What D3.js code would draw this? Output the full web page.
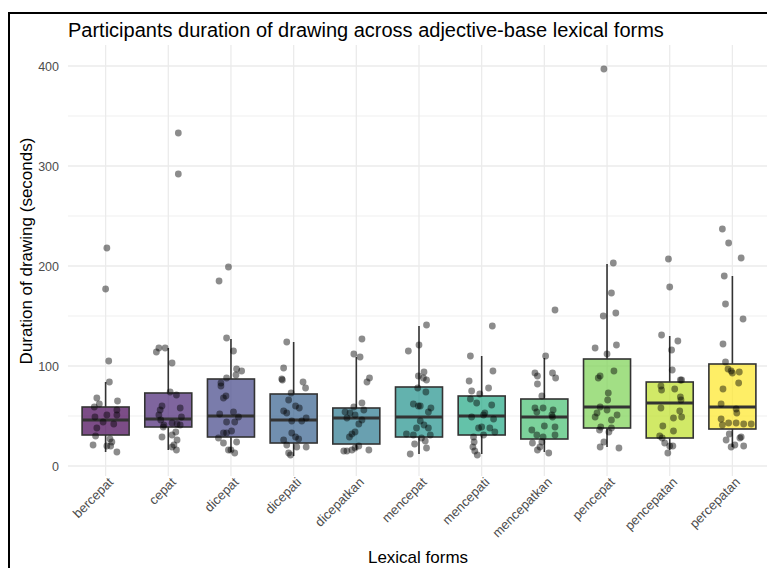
<!DOCTYPE html>
<html>
<head>
<meta charset="utf-8">
<script src="https://cdn.jsdelivr.net/npm/d3@7"></script>
<style>
  body { margin: 0; background: #fff; }
  text { font-family: "Liberation Sans", Arial, sans-serif; }
</style>
</head>
<body>
<div class="chart"></div>
<script>
var svgWidth = 767;
var svgHeight = 568;

var margin = { top: 45, right: -3, bottom: 92, left: 68 };
var width = svgWidth - margin.left - margin.right;
var height = svgHeight - margin.top - margin.bottom;

//-------- data ----------------------------------------
var categories = ["bercepat", "cepat", "dicepat", "dicepati", "dicepatkan", "mencepat",
  "mencepati", "mencepatkan", "pencepat", "pencepatan", "percepatan"];

// box statistics (seconds)
var q1 = [31, 39, 29, 23, 22, 29, 31, 27, 38, 28, 37];
var medians = [46, 47, 50, 46, 48, 49, 50, 49, 59, 63, 59];
var q3 = [59, 73, 87, 72, 58, 79, 70, 67, 107, 84, 102];
var whiskerLow = [14, 16, 14, 10, 16, 12, 12, 14, 19, 16, 19];
var whiskerHigh = [84, 118, 127, 124, 109, 140, 110, 108, 202, 130, 190];

// jittered observations: [duration, jitter as share of category step]
var durations = [
  [[218, .02], [177, 0], [105, .05], [84, .06], [68, -.14], [62, -.10], [65, .19], [59, -.18], [56, .18],
   [51, .18], [51, .02], [49, -.17], [44, -.04], [42, .13], [38, -.14], [30, -.16], [27, .07], [24, .10],
   [21, -.20], [20, .02], [20, .08], [14, .18]],
  [[333, .16], [292, .16], [114, -.19], [118, -.15], [118, -.05], [103, .06], [74, .03], [71, .13], [60, -.10],
   [58, .19], [56, -.13], [51, -.15], [49, .21], [46, -.12], [41, -.07], [42, .14], [41, .19], [43, .06],
   [39, -.08], [34, .12], [31, .06], [29, -.10], [26, .14], [21, .09], [19, .06], [16, .13]],
  [[199, -.04], [185, -.19], [128, -.07], [115, .04], [97, .09], [95, .17], [91, .08], [88, -.07], [83, -.16],
   [80, -.16], [70, -.08], [68, -.12], [54, .04], [52, -.18], [49, .12], [44, -.07], [44, .06], [35, .01],
   [33, -.12], [33, -.07], [28, -.20], [23, -.12], [24, .09], [16, -.04], [16, 0], [13, .06]],
  [[124, -.11], [98, -.16], [87, -.19], [86, -.18], [84, .15], [78, .19], [73, -.04], [66, -.08], [60, .03],
   [58, .09], [55, -.16], [53, -.11], [48, .20], [45, .13], [45, -.03], [33, -.03], [26, -.16], [29, .03],
   [27, .08], [21, -.11], [19, .05], [19, .20], [13, -.08], [11, -.05]],
  [[127, .09], [112, -.04], [109, .06], [88, .21], [84, .17], [63, .09], [59, -.04], [56, .12], [54, -.18],
   [53, -.10], [51, -.02], [48, -.15], [46, .09], [42, .04], [34, -.02], [32, -.07], [29, -.11], [20, .04],
   [18, -.02], [15, -.20], [16, -.07], [16, .20], [15, -.15]],
  [[141, .12], [121, 0], [115, -.17], [94, .08], [90, -.01], [88, .07], [86, .12], [78, -.02], [74, .11],
   [62, -.09], [60, .02], [60, -.01], [58, .19], [54, .15], [45, .02], [41, .08], [38, -.04], [38, .15],
   [32, -.20], [31, -.09], [31, .18], [28, .04], [25, .10], [22, -.07], [18, .12], [12, -.14]],
  [[140, .17], [110, -.18], [95, .18], [85, -.20], [78, .11], [75, -.16], [72, -.03], [67, -.18], [63, -.08],
   [61, .16], [53, .05], [51, .03], [49, -.16], [47, .19], [39, 0], [38, -.05], [38, .13], [34, .21],
   [29, -.13], [31, .03], [24, -.12], [19, -.14], [15, -.11], [11, -.07]],
  [[156, .17], [110, .02], [93, -.15], [90, -.11], [93, .13], [88, .18], [82, -.11], [70, -.04], [58, -.15],
   [58, -.02], [56, .14], [54, -.12], [51, .12], [49, .13], [40, 0], [36, -.20], [39, .17], [31, -.12],
   [31, .17], [29, -.02], [23, -.19], [24, -.04], [19, -.07], [16, -.11], [13, .07]],
  [[397, -.05], [203, .10], [173, .07], [150, -.06], [153, .14], [118, -.19], [121, .15], [112, 0], [95, .11],
   [90, -.11], [88, -.14], [73, .02], [66, .01], [59, -.11], [56, 0], [53, -.16], [51, .16], [49, -.19],
   [46, .07], [39, -.10], [38, .07], [36, -.12], [34, .03], [24, -.05], [19, -.11], [18, .19]],
  [[207, -.02], [179, 0], [131, -.13], [125, .13], [116, .03], [96, .04], [86, .19], [86, .17], [80, -.14],
   [76, -.13], [77, .08], [69, .17], [66, .18], [58, -.14], [55, .16], [49, .19], [48, .06], [40, -.11],
   [35, .06], [30, -.16], [28, -.12], [23, -.08], [20, 0], [20, .05], [13, -.03]],
  [[237, -.16], [223, -.06], [208, .14], [190, -.13], [162, -.11], [147, .17], [122, -.15], [104, -.11],
   [97, -.07], [93, 0], [94, .11], [95, -.02], [83, .10], [77, -.15], [62, -.18], [57, .06], [53, .07],
   [47, -.18], [43, -.06], [43, .06], [42, .18], [42, .30], [41, -.16], [32, -.05], [26, -.10], [29, .14],
   [28, .12], [21, .04], [20, .18], [19, -.02]]
];

var yTicks = [0, 100, 200, 300, 400];
var yMinor = [50, 150, 250, 350];
//------------------------------------------------------

var svg = d3.select(".chart")
  .append("svg")
  .attr("width", svgWidth)
  .attr("height", svgHeight);

// frame round the figure
svg.append("rect")
  .attr("x", 9)
  .attr("y", 13)
  .attr("width", svgWidth + 20)
  .attr("height", svgHeight + 20)
  .attr("fill", "none")
  .attr("stroke", "#000")
  .attr("stroke-width", 2);

var chartGroup = svg.append("g")
  .attr("transform", `translate(${margin.left}, ${margin.top})`);

//-------- Scales --------------------------------------
var xScale = d3.scalePoint()
  .domain(categories)
  .range([0, width])
  .padding(0.6);

var yScale = d3.scaleLinear()
  .domain([-10, 421])
  .range([height, 0]);

var colorScale = d3.scaleSequential(d3.interpolateViridis)
  .domain([0, categories.length - 1]);

var step = xScale.step();
var boxWidth = step * 0.75;

//-------- Grid ----------------------------------------
chartGroup.append("g")
  .selectAll("line")
  .data(yMinor)
  .enter()
  .append("line")
  .attr("x1", 0)
  .attr("x2", width)
  .attr("y1", d => yScale(d))
  .attr("y2", d => yScale(d))
  .attr("stroke", "#efefef")
  .attr("stroke-width", 1);

chartGroup.append("g")
  .selectAll("line")
  .data(yTicks)
  .enter()
  .append("line")
  .attr("x1", 0)
  .attr("x2", width)
  .attr("y1", d => yScale(d))
  .attr("y2", d => yScale(d))
  .attr("stroke", "#ebebeb")
  .attr("stroke-width", 1.3);

chartGroup.append("g")
  .selectAll("line")
  .data(categories)
  .enter()
  .append("line")
  .attr("x1", d => xScale(d))
  .attr("x2", d => xScale(d))
  .attr("y1", 0)
  .attr("y2", height)
  .attr("stroke", "#ebebeb")
  .attr("stroke-width", 1.3);

//-------- Axes ----------------------------------------
var leftAxis = d3.axisLeft(yScale).tickValues(yTicks).tickSize(0).tickPadding(9);
var yAxis = chartGroup.append("g").call(leftAxis);
yAxis.select(".domain").remove();
yAxis.selectAll("text")
  .attr("fill", "#4d4d4d")
  .style("font-size", "12.5px");

var bottomAxis = d3.axisBottom(xScale).tickSize(0).tickPadding(0);
var xAxis = chartGroup.append("g")
  .attr("transform", `translate(0, ${height})`)
  .call(bottomAxis);
xAxis.select(".domain").remove();
xAxis.selectAll("text")
  .attr("fill", "#4d4d4d")
  .style("font-size", "13px")
  .attr("text-anchor", "end")
  .attr("dy", "0")
  .attr("y", 0)
  .attr("transform", "translate(8, 7) rotate(-45)");

//-------- Boxes ---------------------------------------
var boxes = chartGroup.selectAll(".box")
  .data(categories)
  .enter()
  .append("g")
  .attr("class", "box");

boxes.append("line")
  .attr("x1", d => xScale(d))
  .attr("x2", d => xScale(d))
  .attr("y1", (d, i) => yScale(whiskerHigh[i]))
  .attr("y2", (d, i) => yScale(q3[i]))
  .attr("stroke", "#333")
  .attr("stroke-width", 1.6);

boxes.append("line")
  .attr("x1", d => xScale(d))
  .attr("x2", d => xScale(d))
  .attr("y1", (d, i) => yScale(q1[i]))
  .attr("y2", (d, i) => yScale(whiskerLow[i]))
  .attr("stroke", "#333")
  .attr("stroke-width", 1.6);

boxes.append("rect")
  .attr("x", d => xScale(d) - boxWidth / 2)
  .attr("width", boxWidth)
  .attr("y", (d, i) => yScale(q3[i]))
  .attr("height", (d, i) => yScale(q1[i]) - yScale(q3[i]))
  .attr("fill", (d, i) => colorScale(i))
  .attr("fill-opacity", 0.7)
  .attr("stroke", "#333")
  .attr("stroke-width", 1.6);

boxes.append("line")
  .attr("x1", d => xScale(d) - boxWidth / 2)
  .attr("x2", d => xScale(d) + boxWidth / 2)
  .attr("y1", (d, i) => yScale(medians[i]))
  .attr("y2", (d, i) => yScale(medians[i]))
  .attr("stroke", "#333")
  .attr("stroke-width", 3);

//-------- Jittered points -----------------------------
boxes.each(function(cat, i) {
  d3.select(this).selectAll("circle")
    .data(durations[i])
    .enter()
    .append("circle")
    .attr("cx", d => xScale(cat) + d[1] * step)
    .attr("cy", d => yScale(d[0]))
    .attr("r", 3.4)
    .attr("fill", "#000")
    .attr("fill-opacity", 0.45);
});

//-------- Labels --------------------------------------
svg.append("text")
  .attr("x", 68)
  .attr("y", 37)
  .attr("fill", "#000")
  .style("font-size", "20px")
  .text("Participants duration of drawing across adjective-base lexical forms");

svg.append("text")
  .attr("transform", "translate(26, 251) rotate(-90)")
  .attr("text-anchor", "middle")
  .attr("dy", "0.35em")
  .attr("fill", "#000")
  .style("font-size", "17px")
  .text("Duration of drawing (seconds)");

svg.append("text")
  .attr("x", 418)
  .attr("y", 563)
  .attr("text-anchor", "middle")
  .attr("fill", "#000")
  .style("font-size", "17px")
  .text("Lexical forms");
</script>
</body>
</html>
